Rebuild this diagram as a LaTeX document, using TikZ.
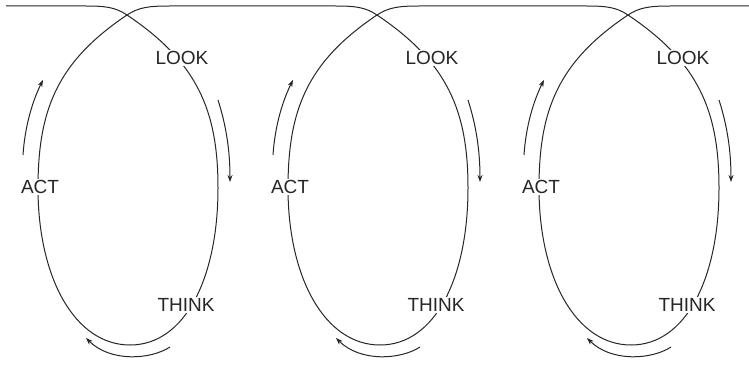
\documentclass[tikz,border=0pt]{standalone}
\usepackage{fontspec}
\setmainfont{Liberation Sans}
\usetikzlibrary{arrows.meta}
\begin{document}
\begin{tikzpicture}[x=1pt,y=-1pt,
  curve/.style={draw=black!85,line width=1pt},
  lbl/.style={fill=white,inner sep=1.5pt,font=\fontsize{19}{21}\selectfont,text=black!85},
  flow/.style={draw=black!85,line width=1pt,-{Stealth[length=7pt,width=5pt]}}]
\useasboundingbox (0,0) rectangle (749,366);
\draw[curve] (6,6) foreach \o in {0,250,501}{
  -- ({85+\o},6)
  .. controls ({105+\o},6) and ({115+\o},7) .. ({127+\o},15)
  .. controls ({197+\o},62) and ({218+\o},110) .. ({218+\o},188)
  .. controls ({218+\o},278) and ({185+\o},345) .. ({130+\o},345)
  .. controls ({75+\o},345) and ({38+\o},278) .. ({38+\o},188)
  .. controls ({38+\o},110) and ({57+\o},62) .. ({127+\o},15)
  .. controls ({139+\o},7) and ({150+\o},6) .. ({170+\o},6)
} -- (749,6);
\foreach \o/\i in {0/1,250/2,501/3}{
  \node[lbl] (look\i) at ({182+\o},58) {LOOK};
  \node[lbl] (act\i) at ({40+\o},187) {ACT};
  \node[lbl] (think\i) at ({186+\o},305) {THINK};
  \coordinate (la\i) at ({23+\o},155);
  \coordinate (lb\i) at ({43+\o},80);
  \coordinate (ra\i) at ({218+\o},100);
  \coordinate (rb\i) at ({230+\o},182);
  \coordinate (ba\i) at ({170+\o},347);
  \coordinate (bb\i) at ({86+\o},338);
  \draw[flow] (la\i) .. controls ({25+\o},125) and ({33+\o},100) .. (lb\i);
  \draw[flow] (ra\i) .. controls ({226+\o},125) and ({230+\o},150) .. (rb\i);
  \draw[flow] (ba\i) .. controls ({150+\o},360) and ({110+\o},362) .. (bb\i);
}
\end{tikzpicture}
\end{document}
